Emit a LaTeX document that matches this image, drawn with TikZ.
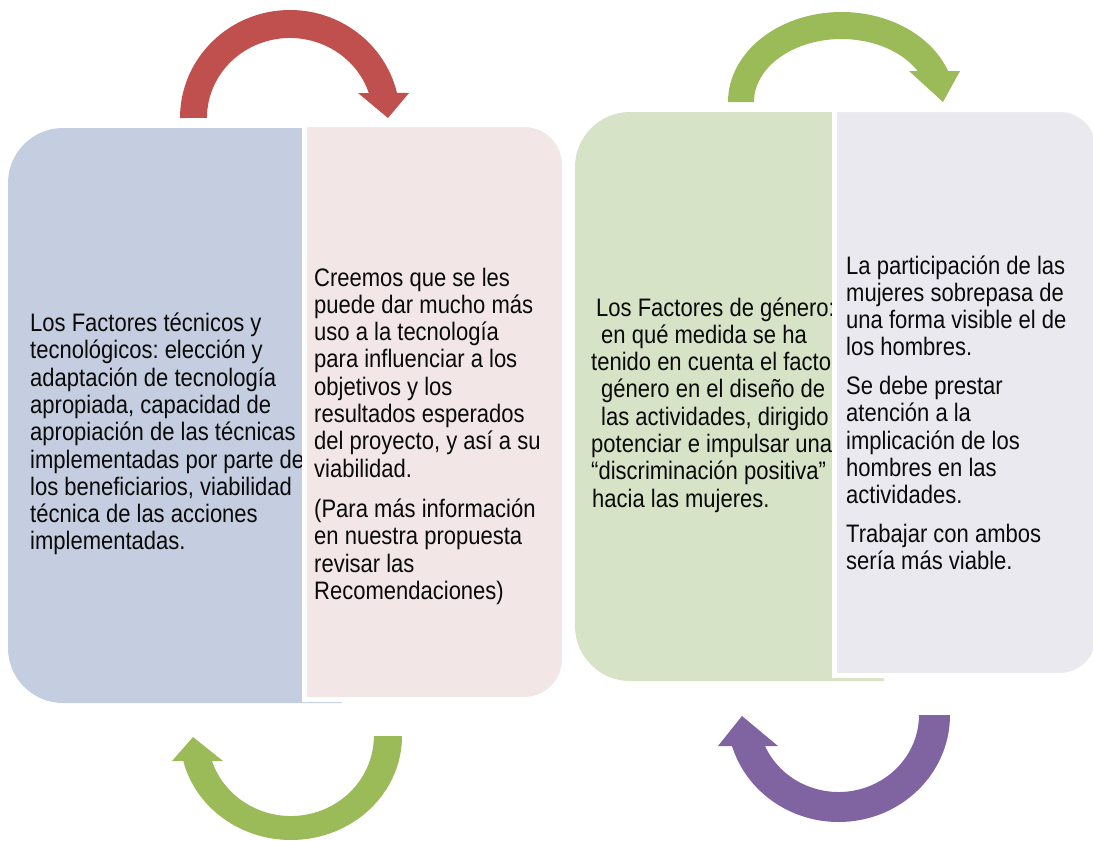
\documentclass[tikz,border=0pt]{standalone}
\usepackage{fontspec}
\setmainfont{Liberation Sans}[FakeStretch=0.87]
\frenchspacing
\definecolor{boxblue}{HTML}{C4CEE0}
\definecolor{boxpink}{HTML}{F2E6E6}
\definecolor{boxgreen}{HTML}{D7E3C6}
\definecolor{boxlav}{HTML}{EBE9F0}
\definecolor{arrred}{HTML}{C0504D}
\definecolor{arrgreen}{HTML}{9BBB59}
\definecolor{arrpurple}{HTML}{8064A2}
\definecolor{txtcol}{HTML}{0A0A0A}
\tikzset{
  txt/.style={anchor=base west, inner sep=0pt, text=txtcol, font=\fontsize{25.3}{27.3}\selectfont},
  panel/.style={draw=white, line width=5pt},
}
\begin{document}
\begin{tikzpicture}[x=1pt,y=-1pt]
\useasboundingbox (0,0) rectangle (1093,841);
\clip (0,0) rectangle (1093,841);
% blue panel
\fill[boxblue] (342,128) -- (63,128) arc[start angle=270,end angle=180,radius=55] -- (8,648) arc[start angle=180,end angle=90,radius=55] -- (342,703) -- cycle;
\node[txt] (b1) at (30,331.5) {Los Factores técnicos y};
\node[txt] (b2) at (30,358.8) {tecnológicos: elección y};
\node[txt] (b3) at (30,386.1) {adaptación de tecnología};
\node[txt] (b4) at (30,413.4) {apropiada, capacidad de};
\node[txt] (b5) at (30,440.7) {apropiación de las técnicas};
\node[txt] (b6) at (30,468.0) {implementadas por parte de};
\node[txt] (b7) at (30,495.3) {los beneficiarios, viabilidad};
\node[txt] (b8) at (30,522.6) {técnica de las acciones};
\node[txt] (b9) at (30,549.9) {implementadas.};
% pink panel
\filldraw[panel, fill=boxpink] (304.5,124.5) -- (524.5,124.5) arc[start angle=270,end angle=360,radius=40] -- (564.5,659.5) arc[start angle=0,end angle=90,radius=40] -- (304.5,699.5) -- cycle;
\node[txt] (p1) at (314,286) {Creemos que se les};
\node[txt] (p2) at (314,313.3) {puede dar mucho más};
\node[txt] (p3) at (314,340.6) {uso a la tecnología};
\node[txt] (p4) at (314,367.9) {para influenciar a los};
\node[txt] (p5) at (314,395.2) {objetivos y los};
\node[txt] (p6) at (314,422.5) {resultados esperados};
\node[txt] (p7) at (314,449.8) {del proyecto, y así a su};
\node[txt] (p8) at (314,477.1) {viabilidad.};
\node[txt] (p9) at (314,517.5) {(Para más información};
\node[txt] (p10) at (314,544.8) {en nuestra propuesta};
\node[txt] (p11) at (314,572.1) {revisar las};
\node[txt] (p12) at (314,599.4) {Recomendaciones)};
% green panel
\fill[boxgreen] (884,112) -- (630,112) arc[start angle=270,end angle=180,radius=55] -- (575,626) arc[start angle=180,end angle=90,radius=55] -- (884,681) -- cycle;
\node[txt] (g1) at (596,316) {Los Factores de género:};
\node[txt] (g2) at (601,343.3) {en qué medida se ha};
\node[txt] (g3) at (591,370.6) {tenido en cuenta el facto};
\node[txt] (g4) at (601,397.9) {género en el diseño de};
\node[txt] (g5) at (601,425.2) {las actividades, dirigido};
\node[txt] (g6) at (591,452.5) {potenciar e impulsar una};
\node[txt] (g7) at (591,479.8) {“discriminación positiva”};
\node[txt] (g8) at (592,507.1) {hacia las mujeres.};
% lavender panel
\filldraw[panel, fill=boxlav] (834.5,109.5) -- (1060,109.5) arc[start angle=270,end angle=360,radius=38] -- (1098,637.5) arc[start angle=0,end angle=90,radius=38] -- (834.5,675.5) -- cycle;
\node[txt] (v1) at (846,274) {La participación de las};
\node[txt] (v2) at (846,301.3) {mujeres sobrepasa de};
\node[txt] (v3) at (846,328.6) {una forma visible el de};
\node[txt] (v4) at (846,355.9) {los hombres.};
\node[txt] (v5) at (846,394.4) {Se debe prestar};
\node[txt] (v6) at (846,421.7) {atención a la};
\node[txt] (v7) at (846,449.0) {implicación de los};
\node[txt] (v8) at (846,476.3) {hombres en las};
\node[txt] (v9) at (846,503.6) {actividades.};
\node[txt] (v10) at (846,542.1) {Trabajar con ambos};
\node[txt] (v11) at (846,569.4) {sería más viable.};
% arrows
\fill[arrred] (180,118) arc[start angle=180,end angle=346.6,x radius=110,y radius=108] -- (409,93) -- (388,118) -- (358,93) -- (368.8,93) arc[start angle=341.8,end angle=180,x radius=83,y radius=80] -- cycle;
\fill[arrgreen] (728,102) arc[start angle=180,end angle=339.85,x radius=113.5,y radius=90] -- (960,71) -- (943,102) -- (909,71) -- (917.6,71) arc[start angle=330.5,end angle=180,x radius=87.5,y radius=63] -- cycle;
\fill[arrgreen] (402,736) arc[start angle=0,end angle=166.1,x radius=111,y radius=104] -- (172,761) -- (193,737) -- (223,761) -- (212,761) arc[start angle=161.8,end angle=0,x radius=83,y radius=80] -- cycle;
\fill[arrpurple] (950,715) arc[start angle=0,end angle=163.16,x radius=111.4,y radius=107] -- (718,746) -- (742,716) -- (778,746) -- (765,746) arc[start angle=156.26,end angle=0,x radius=80.4,y radius=77] -- cycle;
\end{tikzpicture}
\end{document}
